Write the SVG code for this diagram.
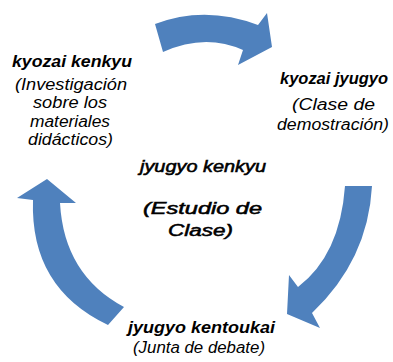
<svg xmlns="http://www.w3.org/2000/svg" width="393" height="362" viewBox="0 0 393 362">
<style>
.arrow{fill:#4f81bd;stroke:none}
text{font-family:"Liberation Sans",Arial,sans-serif;font-style:italic;fill:#000}
.t{font-weight:bold;font-size:17px}
.s{font-size:16px}
.c{font-size:17px;stroke:#000;stroke-width:0.55}
</style>
<rect width="393" height="362" fill="#fff"/>
<g id="connectors">
<path class="arrow" d="M155,24 Q205,5 258,25 L267,13 L272,47 L238,65 L243,50 Q205,33 163,52 Z"/>
<path class="arrow" d="M345,186 L372,186 Q368,260 312,313 L320,328 L287,314 L289,275 L298,287 Q340,255 345,186 Z"/>
<path class="arrow" d="M47,179 L76,203 L60,203 Q64,275 124,307 L108,325 Q30,288 33,200 L17,198 Z"/>
</g>
<g id="kyozai-kenkyu">
<text class="t" x="12" y="67" textLength="120" lengthAdjust="spacingAndGlyphs">kyozai kenkyu</text>
<text class="s" x="15" y="90" textLength="112" lengthAdjust="spacingAndGlyphs">(Investigación</text>
<text class="s" x="33" y="108" textLength="74" lengthAdjust="spacingAndGlyphs">sobre los</text>
<text class="s" x="30" y="127" textLength="80" lengthAdjust="spacingAndGlyphs">materiales</text>
<text class="s" x="28" y="145" textLength="85" lengthAdjust="spacingAndGlyphs">didácticos)</text>
</g>
<g id="kyozai-jyugyo">
<text class="t" x="280" y="84" textLength="108" lengthAdjust="spacingAndGlyphs">kyozai jyugyo</text>
<text class="s" x="292" y="110" textLength="83" lengthAdjust="spacingAndGlyphs">(Clase de</text>
<text class="s" x="277" y="130" textLength="112" lengthAdjust="spacingAndGlyphs">demostración)</text>
</g>
<g id="jyugyo-kenkyu">
<text class="c" x="140" y="172" textLength="126" lengthAdjust="spacingAndGlyphs">jyugyo kenkyu</text>
<text class="c" x="143" y="214" textLength="119" lengthAdjust="spacingAndGlyphs">(Estudio de</text>
<text class="c" x="168" y="236" textLength="65" lengthAdjust="spacingAndGlyphs">Clase)</text>
</g>
<g id="jyugyo-kentoukai">
<text class="t" x="128" y="333" textLength="147" lengthAdjust="spacingAndGlyphs">jyugyo kentoukai</text>
<text class="s" x="133" y="353" textLength="132" lengthAdjust="spacingAndGlyphs">(Junta de debate)</text>
</g>
</svg>
